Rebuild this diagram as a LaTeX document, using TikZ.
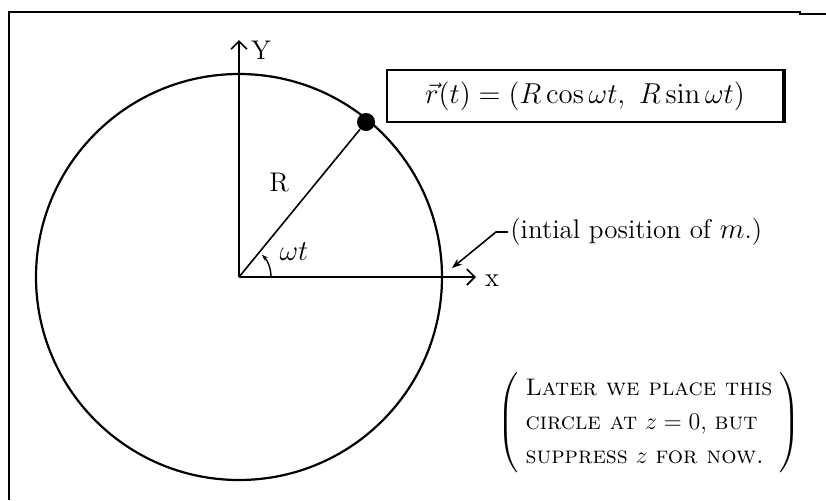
\documentclass[tikz,border=0pt]{standalone}
\usepackage{amsmath}
\usepackage{tikz}
\usetikzlibrary{arrows.meta, positioning, calc}

\begin{document}
\begin{tikzpicture}[x=0.5pt, y=-0.5pt,
    axis/.style={line width=0.8pt, -{Straight Barb[length=4pt]}},
    orbit/.style={line width=1.1pt},
    mass/.style={circle, fill=black, minimum size=9pt, inner sep=0pt},
    eqbox/.style={rectangle, draw=black, line width=0.9pt, minimum width=198pt, minimum height=26pt, inner sep=2pt, font=\fontsize{15}{17}\selectfont},
    lbl/.style={font=\fontsize{13.5}{15}\selectfont, inner sep=1pt},
    note/.style={font=\fontsize{12}{17}\selectfont, align=left, inner sep=0pt},
    leader/.style={line width=0.8pt, -{Stealth[length=5pt]}}
]
\useasboundingbox (0,0) rectangle (826,500);

% Frame
\draw[line width=1pt] (9,500) -- (9,12) -- (800,12) -- (800,14) -- (826,14);

% Axes
\coordinate (O) at (239,277);
\coordinate (ytip) at (239,40);
\coordinate (xtip) at (476,277);
\draw[axis] (O) -- (ytip);
\draw[axis] (O) -- (xtip);
\node[lbl] (ylab) at (261,50) {Y};
\node[lbl] (xlab) at (492,281) {x};

% Circle and mass
\draw[orbit] (O) circle[radius=203];
\node[mass] (m) at (366,122) {};
\draw[line width=0.8pt] (O) -- (m);
\node[lbl] (rlab) at (279,183) {R};

% Angle
\draw[line width=0.7pt, -{Stealth[length=3pt]}] (O) ++(32,0) arc[start angle=0, end angle=-44, radius=32];
\node[lbl] (wt) at (294,252) {$\omega t$};

% Equation box
\node[eqbox] (eq) at (585,96) {$\vec{r}(t) = (R\cos\omega t,\ R\sin\omega t)$};
\draw[line width=2pt] (eq.north east) -- (eq.south east);

% Initial position
\node[lbl, anchor=west] (init) at (508,232) {(intial position of $m$.)};
\coordinate (start) at (452,268);
\draw[leader] (init.west) -- ++(-12,0) -- (start);

% Note
\node[note] (later) at (649,421) {$\left(\vphantom{\rule{0pt}{30pt}}\;\begin{tabular}{@{}l@{}}
  \textsc{Later we place this}\\
  \textsc{circle at} $z = 0$, \textsc{but}\\
  \textsc{suppress} $z$ \textsc{for now.}
\end{tabular}\;\right)$};

\end{tikzpicture}
\end{document}
